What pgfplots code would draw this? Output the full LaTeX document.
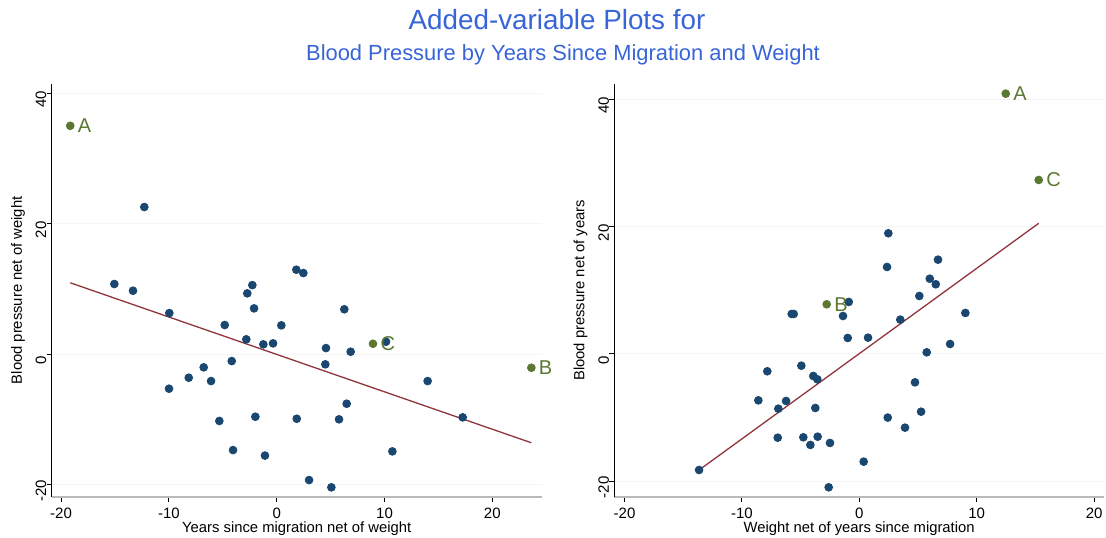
\documentclass[border=0pt]{standalone}
\usepackage{fontspec}
\setmainfont{Liberation Sans}
\usepackage{pgfplots}
\pgfplotsset{compat=1.18}

\definecolor{stnavy}{RGB}{26,71,111}
\definecolor{stgreen}{RGB}{90,120,50}
\definecolor{stmaroon}{RGB}{144,53,59}
\definecolor{ttlblue}{RGB}{55,100,215}

% left panel: years since migration net of weight
\pgfplotstableread{
x y
-12.28 22.56
-15.06 10.77
-13.33 9.74
-2.73 9.34
-2.26 10.60
-2.10 7.04
1.82 12.96
2.47 12.45
6.27 6.90
-9.96 6.32
-4.82 4.49
-2.82 2.30
-1.24 1.53
-0.34 1.68
0.43 4.44
-4.17 -1.03
-6.77 -1.99
-8.16 -3.58
-6.09 -4.09
-9.99 -5.26
-1.98 -9.55
-5.32 -10.20
-4.05 -14.66
-1.09 -15.50
4.57 0.96
6.86 0.40
4.51 -1.53
10.14 1.93
14.00 -4.09
6.49 -7.56
1.86 -9.86
5.78 -9.95
17.25 -9.65
10.73 -14.86
3.00 -19.25
5.07 -20.37
}\leftpts

\pgfplotstableread{
x y lab
-19.15 35.00 A
23.62 -2.05 B
8.93 1.62 C
}\leftlab

% right panel: weight net of years since migration
\pgfplotstableread{
x y
2.47 18.98
2.36 13.68
6.70 14.83
6.00 11.84
6.51 10.96
5.11 9.12
-0.90 8.18
-5.76 6.29
-5.59 6.29
-7.84 -2.72
-4.94 -1.84
-3.92 -3.46
-3.58 -3.98
-8.60 -7.29
-6.24 -7.39
-6.90 -8.60
-3.75 -8.49
-6.95 -13.16
-4.77 -13.10
-3.55 -13.00
-4.17 -14.30
-2.50 -13.99
-13.65 -18.24
-2.61 -20.96
-1.39 5.97
9.03 6.45
3.49 5.40
-0.99 2.52
0.74 2.57
7.73 1.57
5.74 0.26
4.74 -4.46
5.26 -9.07
2.42 -10.00
3.89 -11.58
0.37 -16.93
}\rightpts

\pgfplotstableread{
x y lab
12.47 40.93 A
-2.78 7.81 B
15.28 27.36 C
}\rightlab

\pgfplotsset{avplot/.style={
  scale only axis, height=206.35pt,
  axis x line*=bottom, axis y line*=left,
  x axis line style={gray!55, line width=1.1pt, -},
  y axis line style={black, line width=0.6pt, -},
  tick align=outside, major tick length=2.5pt,
  tick style={black, line width=0.5pt},
  xtick={-20,-10,0,10,20}, xticklabels={-20,-10,0,10,20},
  ytick={-20,0,20,40}, yticklabels={-20,0,20,40},
  ticklabel style={font=\fontsize{7.5}{8}\selectfont},
  every x tick label/.style={anchor=north, inner sep=0pt, yshift=-3pt},
  every y tick label/.style={rotate=90, anchor=south, inner sep=0pt, xshift=-3pt},
  every axis x label/.style={at={(axis description cs:0.5,0)}, anchor=base, yshift=-17.9pt,
    font=\fontsize{7.4}{8}\selectfont},
  every axis y label/.style={at={(axis description cs:0,0.5)}, xshift=-16.85pt, rotate=90,
    anchor=center, font=\fontsize{7.4}{8}\selectfont},
  ymajorgrids, major grid style={black!4, line width=0.5pt},
  clip=false,
  dots/.style={only marks, mark=*, mark size=1.95pt, mark options={draw=stnavy, fill=stnavy}},
  named/.style={only marks, mark=*, mark size=1.95pt, mark options={draw=stgreen, fill=stgreen},
    nodes near coords, point meta=explicit symbolic,
    every node near coord/.style={anchor=west, inner sep=0pt, xshift=3.6pt,
      text=stgreen, font=\fontsize{10}{12}\selectfont}},
}}

\begin{document}
\begin{tikzpicture}
\useasboundingbox (0,0) rectangle (553pt,268.5pt);

\node[anchor=base, text=ttlblue, font=\fontsize{13.9}{16}\selectfont] at (278.5pt,254pt) {Added-variable Plots for};
\node[anchor=base, text=ttlblue, font=\fontsize{10.95}{12}\selectfont] at (281.5pt,238.5pt) {Blood Pressure by Years Since Migration and Weight};

\begin{axis}[avplot, at={(25.85pt,20.15pt)}, anchor=south west, width=245pt,
  xmin=-20.87, xmax=24.58, ymin=-21.8, ymax=41.4,
  xlabel={Years since migration net of weight},
  ylabel={Blood pressure net of weight}]
  \addplot[stmaroon, line width=0.65pt] coordinates {(-19.15,10.96) (23.62,-13.54)};
  \addplot[dots] table[x=x, y=y] {\leftpts};
  \addplot[named] table[x=x, y=y, meta=lab] {\leftlab};
\end{axis}

\begin{axis}[avplot, at={(307.15pt,20.15pt)}, anchor=south west, width=244.85pt,
  xmin=-20.87, xmax=20.84, ymin=-22.44, ymax=42.45,
  xlabel={Weight net of years since migration},
  ylabel={Blood pressure net of years}]
  \addplot[stmaroon, line width=0.65pt] coordinates {(-13.65,-18.24) (15.28,20.55)};
  \addplot[dots] table[x=x, y=y] {\rightpts};
  \addplot[named] table[x=x, y=y, meta=lab] {\rightlab};
\end{axis}
\end{tikzpicture}
\end{document}
